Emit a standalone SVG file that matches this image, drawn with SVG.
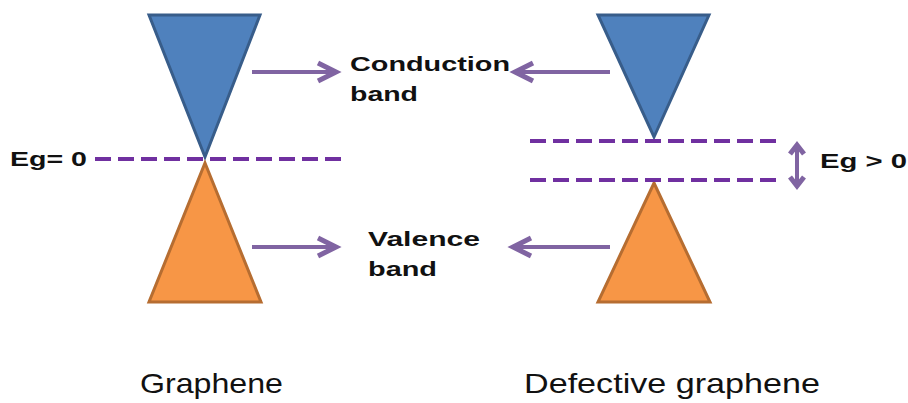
<svg xmlns="http://www.w3.org/2000/svg" width="908" height="403" viewBox="0 0 908 403">
<defs>
<style>
.cb{fill:#4F81BD;stroke:#385D8A;stroke-width:3;stroke-linejoin:miter}
.vb{fill:#F79646;stroke:#B66D31;stroke-width:3}
.dash{stroke:#7030A0;stroke-width:4;stroke-dasharray:16,7;fill:none}
.arr{stroke:#8064A2;stroke-width:4;fill:none}
.head{stroke:#8064A2;stroke-width:5;fill:none;stroke-linejoin:miter}
.lbl{font-family:"Liberation Sans",Arial,sans-serif;font-weight:bold;font-size:21px;fill:#111}
.cap{font-family:"Liberation Sans",Arial,sans-serif;font-size:28px;fill:#111}
</style>
</defs>
<rect width="908" height="403" fill="#fff"/>
<g id="graphene-conduction"><polygon class="cb" points="149,15 260,15 205,157"/></g>
<g id="graphene-valence"><polygon class="vb" points="205,163 261,302 149,302"/></g>
<g id="defective-conduction"><polygon class="cb" points="598,15 709,15 654,137"/></g>
<g id="defective-valence"><polygon class="vb" points="654,183 710,302 598,302"/></g>
<g id="connectors">
<line class="dash" x1="95" y1="159" x2="342" y2="159"/>
<line class="dash" x1="530" y1="141" x2="778" y2="141"/>
<line class="dash" x1="530" y1="180" x2="778" y2="180"/>
<line class="arr" x1="252" y1="72" x2="336" y2="72"/>
<polyline class="head" points="318,63 336,72 318,81"/>
<line class="arr" x1="252" y1="247" x2="336" y2="247"/>
<polyline class="head" points="318,238 336,247 318,256"/>
<line class="arr" x1="610" y1="72" x2="515" y2="72"/>
<polyline class="head" points="533,63 515,72 533,81"/>
<line class="arr" x1="610" y1="247" x2="513" y2="247"/>
<polyline class="head" points="531,238 513,247 531,256"/>
<line class="arr" x1="797" y1="147" x2="797" y2="184" stroke-width="3"/>
<polyline class="head" points="790,154 797,145 804,154" stroke-width="3"/>
<polyline class="head" points="790,177 797,186 804,177" stroke-width="3"/>
</g>
<g id="labels">
<text class="lbl" x="350" y="71" textLength="160" lengthAdjust="spacingAndGlyphs">Conduction</text>
<text class="lbl" x="350" y="101" textLength="68" lengthAdjust="spacingAndGlyphs">band</text>
<text class="lbl" x="368" y="246" textLength="112" lengthAdjust="spacingAndGlyphs">Valence</text>
<text class="lbl" x="368" y="276" textLength="69" lengthAdjust="spacingAndGlyphs">band</text>
<text class="lbl" x="10" y="166" textLength="77" lengthAdjust="spacingAndGlyphs">Eg= 0</text>
<text class="lbl" x="820" y="168" textLength="87" lengthAdjust="spacingAndGlyphs">Eg &gt; 0</text>
<text class="cap" x="140" y="393" textLength="143" lengthAdjust="spacingAndGlyphs">Graphene</text>
<text class="cap" x="524" y="393" textLength="296" lengthAdjust="spacingAndGlyphs">Defective graphene</text>
</g>
</svg>
